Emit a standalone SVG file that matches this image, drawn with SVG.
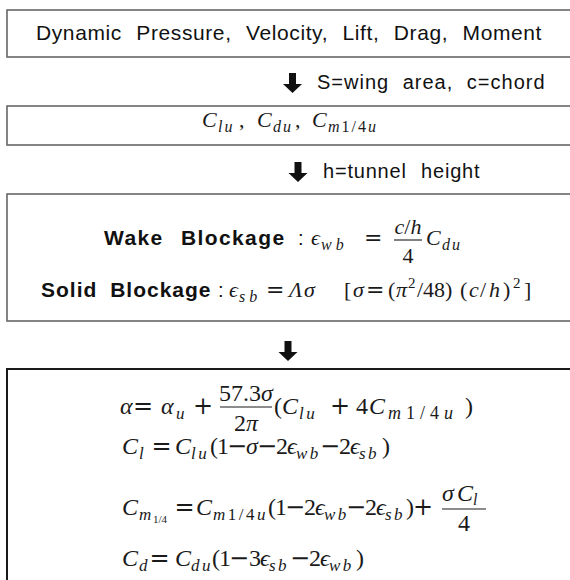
<svg xmlns="http://www.w3.org/2000/svg" width="570" height="580" viewBox="0 0 570 580">
<style>
.box{fill:none;stroke:#666;stroke-width:1.6}
.box4{fill:none;stroke:#1a1a1a;stroke-width:2}
.lbl{font-family:"Liberation Sans",Arial,sans-serif;font-size:20px;fill:#111}
.b{font-weight:bold;font-size:21px}
.m{font-family:"Liberation Serif","DejaVu Serif",serif;font-style:italic;fill:#1a1a1a}
.n{font-style:normal}
.op{font-family:"DejaVu Serif",serif;font-style:normal}
.m3{font-size:22px}
.m4{font-size:24px}
.s{font-size:16px;letter-spacing:2px}
.s3{font-size:16px;letter-spacing:4px}
.s4{font-size:17px;letter-spacing:2.5px}
.sw{font-size:18px;letter-spacing:5px}
.ss{font-size:11px}
.sup{font-size:15px}
.arr{fill:#111}
.bar{stroke:#1a1a1a;stroke-width:1.1}
</style>
<rect width="570" height="580" fill="#fff"/>

<g id="node1">
<rect class="box" x="7" y="10" width="580" height="47"/>
<text class="lbl" x="36" y="40" style="font-size:21px;letter-spacing:0.6px;word-spacing:8px">Dynamic Pressure, Velocity, Lift, Drag, Moment</text>
</g>

<g id="node2">
<rect class="box" x="7" y="106" width="580" height="39"/>
<text class="m m3">
<tspan x="202" y="127">C</tspan><tspan class="s" x="218" y="132">lu</tspan><tspan class="n" x="239" y="127">,</tspan>
<tspan x="257" y="127">C</tspan><tspan class="s" x="273" y="132">du</tspan><tspan class="n" x="295" y="127">,</tspan>
<tspan x="312" y="127">C</tspan><tspan class="s" x="328" y="132">m</tspan><tspan class="s n">1/4</tspan><tspan class="s">u</tspan>
</text>
</g>

<g id="node3">
<rect class="box" x="7" y="194" width="580" height="127"/>
<text class="lbl b" x="104" y="245" style="letter-spacing:1.4px;word-spacing:10px">Wake Blockage</text>
<text class="lbl" x="298" y="245">:</text>
<text class="m m3"><tspan x="311" y="245">ϵ</tspan><tspan class="s3" x="321" y="250">wb</tspan><tspan class="op" x="364" y="245">=</tspan><tspan x="426" y="245">C</tspan><tspan class="s" x="442" y="250">du</tspan></text>
<text class="m m3" x="408" y="234" text-anchor="middle">c<tspan class="n">/</tspan>h</text>
<line class="bar" x1="394" y1="240" x2="422" y2="240"/>
<text class="m m3 n" x="408" y="263" text-anchor="middle">4</text>

<text class="lbl b" x="41" y="297" style="letter-spacing:1px;word-spacing:6px">Solid Blockage</text>
<text class="lbl" x="218" y="297">:</text>
<text class="m m3"><tspan x="229" y="297">ϵ</tspan><tspan class="s3" x="239" y="302">sb</tspan><tspan class="op" x="266" y="297">=</tspan><tspan x="289" y="297">Λ</tspan><tspan x="304" y="297">σ</tspan><tspan class="n" x="344" y="297">[</tspan><tspan x="353" y="297">σ</tspan><tspan class="op" x="366" y="297">=</tspan><tspan class="n" x="388" y="297">(</tspan><tspan x="396" y="297">π</tspan><tspan class="sup n" x="408" y="288">2</tspan><tspan class="n" x="417" y="297">/48)</tspan><tspan class="n" x="460" y="297">(</tspan><tspan x="469" y="297">c</tspan><tspan class="n" x="480" y="297">/</tspan><tspan x="489" y="297">h</tspan><tspan class="n" x="503" y="297">)</tspan><tspan class="sup n" x="513" y="288">2</tspan><tspan class="n" x="524" y="297">]</tspan></text>
</g>

<g id="node4">
<rect class="box4" x="7" y="369" width="580" height="260"/>
<text class="m m4"><tspan x="120" y="414">α</tspan><tspan class="op" x="133" y="414">=</tspan><tspan x="161" y="414">α</tspan><tspan class="s4" x="176" y="419">u</tspan><tspan class="op" x="193" y="414">+</tspan><tspan class="n" x="274" y="414">(</tspan><tspan x="282" y="414">C</tspan><tspan class="s4" x="299" y="419">lu</tspan><tspan class="op" x="330" y="414">+</tspan><tspan class="n" x="356" y="414">4</tspan><tspan x="369" y="414">C</tspan><tspan class="sw" x="388" y="419">m</tspan><tspan class="sw n">1/4</tspan><tspan class="sw">u</tspan><tspan class="n" x="465" y="414">)</tspan></text>
<text class="m m4" x="246" y="401" text-anchor="middle"><tspan class="n">57.3</tspan>σ</text>
<line class="bar" x1="220" y1="407" x2="272" y2="407"/>
<text class="m m4" x="246" y="431" text-anchor="middle"><tspan class="n">2</tspan>π</text>

<text class="m m4"><tspan x="122" y="454">C</tspan><tspan class="s4" x="139" y="459">l</tspan><tspan class="op" x="151.5" y="454">=</tspan><tspan x="175" y="454">C</tspan><tspan class="s4" x="191" y="459">lu</tspan><tspan class="n" x="210" y="454">(</tspan><tspan class="n" x="217" y="454">1</tspan><tspan class="op" x="227" y="454">−</tspan><tspan x="246" y="454">σ</tspan><tspan class="op" x="257" y="454">−</tspan><tspan class="n" x="276" y="454">2</tspan><tspan x="287" y="454">ϵ</tspan><tspan class="s4" x="296" y="459">wb</tspan><tspan class="op" x="320" y="454">−</tspan><tspan class="n" x="339" y="454">2</tspan><tspan x="350" y="454">ϵ</tspan><tspan class="s4" x="359" y="459">sb</tspan><tspan class="n" x="382" y="454">)</tspan></text>

<text class="m m4"><tspan x="122" y="515">C</tspan><tspan class="s4" x="139" y="520">m</tspan><tspan class="ss n" x="153" y="523">1/4</tspan><tspan class="op" x="174.5" y="515">=</tspan><tspan x="196" y="515">C</tspan><tspan class="s4" x="213" y="520">m</tspan><tspan class="s4 n">1/4</tspan><tspan class="s4">u</tspan><tspan class="n" x="268" y="515">(</tspan><tspan class="n" x="275" y="515">1</tspan><tspan class="op" x="285" y="515">−</tspan><tspan class="n" x="304" y="515">2</tspan><tspan x="315" y="515">ϵ</tspan><tspan class="s4" x="324" y="520">wb</tspan><tspan class="op" x="346" y="515">−</tspan><tspan class="n" x="365" y="515">2</tspan><tspan x="376" y="515">ϵ</tspan><tspan class="s4" x="385" y="520">sb</tspan><tspan class="n" x="406" y="515">)</tspan><tspan class="op" x="413" y="515">+</tspan></text>
<text class="m m4"><tspan x="442" y="501">σ</tspan><tspan x="457" y="501">C</tspan><tspan class="s" x="473" y="505">l</tspan></text>
<line class="bar" x1="442" y1="509" x2="486" y2="509"/>
<text class="m m4 n" x="464" y="531" text-anchor="middle">4</text>

<text class="m m4"><tspan x="122" y="566">C</tspan><tspan class="s4" x="139" y="571">d</tspan><tspan class="op" x="149.5" y="566">=</tspan><tspan x="175" y="566">C</tspan><tspan class="s4" x="191" y="571">du</tspan><tspan class="n" x="212" y="566">(</tspan><tspan class="n" x="219" y="566">1</tspan><tspan class="op" x="229" y="566">−</tspan><tspan class="n" x="249" y="566">3</tspan><tspan x="260" y="566">ϵ</tspan><tspan class="s4" x="269" y="571">sb</tspan><tspan class="op" x="290" y="566">−</tspan><tspan class="n" x="309" y="566">2</tspan><tspan x="320" y="566">ϵ</tspan><tspan class="s4" x="329" y="571">wb</tspan><tspan class="n" x="356" y="566">)</tspan></text>
</g>

<g id="connectors">
<polygon class="arr" points="289,73 296,73 296,84 302,84 292.5,93 283,84 289,84"/>
<text class="lbl" x="317" y="89" style="letter-spacing:1px;word-spacing:7px">S=wing area, c=chord</text>
<polygon class="arr" points="294.5,162 301.5,162 301.5,173 307.5,173 298,182 288.5,173 294.5,173"/>
<text class="lbl" x="323" y="178" style="letter-spacing:0.8px;word-spacing:8px">h=tunnel height</text>
<polygon class="arr" points="284.5,341 291.5,341 291.5,352 297.5,352 288,361 278.5,352 284.5,352"/>
</g>
</svg>
